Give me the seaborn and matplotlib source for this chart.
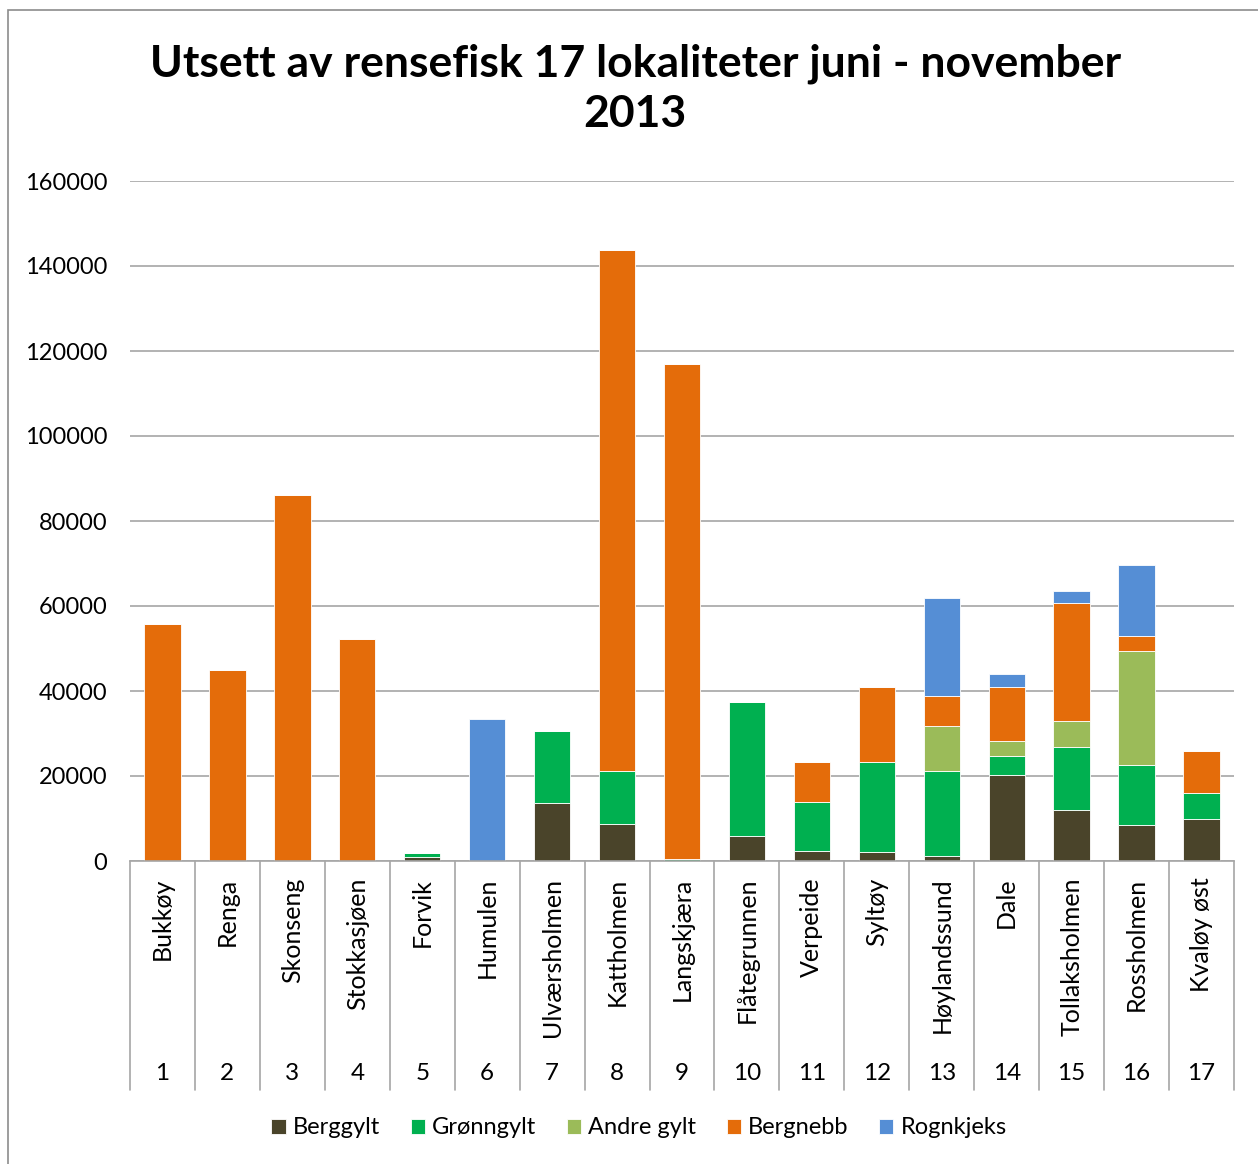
import numpy as np
import pandas as pd
import matplotlib
matplotlib.use('Agg')
import matplotlib.pyplot as plt
import matplotlib.transforms as mtransforms
from matplotlib.patches import Rectangle
import seaborn as sns

# Data
lokaliteter = ['Bukkøy', 'Renga', 'Skonseng', 'Stokkasjøen', 'Forvik', 'Humulen',
               'Ulværsholmen', 'Kattholmen', 'Langskjæra', 'Flåtegrunnen', 'Verpeide',
               'Syltøy', 'Høylandssund', 'Dale', 'Tollaksholmen', 'Rossholmen', 'Kvaløy øst']
nummer = [str(i) for i in range(1, 18)]

berggylt = [0, 0, 0, 0, 1000, 0, 13600, 8700, 0, 6000, 2400, 2100, 1200, 20200, 12100, 8500, 10000]
gronngylt = [0, 0, 0, 0, 900, 0, 16900, 12400, 500, 31300, 11500, 21100, 20000, 4500, 14700, 14100, 6000]
andre_gylt = [0, 0, 0, 0, 0, 0, 0, 0, 0, 0, 0, 0, 10500, 3600, 6100, 26800, 0]
bergnebb = [55800, 45000, 86100, 52200, 0, 0, 0, 122700, 116400, 0, 9300, 17800, 7200, 12700, 27700, 3600, 9900]
rognkjeks = [0, 0, 0, 0, 0, 33500, 0, 0, 0, 0, 0, 0, 22900, 3000, 3000, 16600, 0]

serier = ['Berggylt', 'Grønngylt', 'Andre gylt', 'Bergnebb', 'Rognkjeks']
verdier = [berggylt, gronngylt, andre_gylt, bergnebb, rognkjeks]
farger = ['#4A442A', '#00B050', '#9BBB59', '#E46C0A', '#558ED5']

sns.set_style('white')
plt.rcParams['font.family'] = ['Lato', 'DejaVu Sans']
plt.rcParams['text.color'] = 'black'
plt.rcParams['xtick.color'] = 'black'
plt.rcParams['ytick.color'] = 'black'

fig = plt.figure(figsize=(12.58, 11.64), dpi=100)
ax = fig.add_axes([130 / 1258, 1 - 861 / 1164, 1104 / 1258, 680 / 1164])

# stacked bars, one seaborn call per series
bunn = np.zeros(len(lokaliteter))
for navn, v, c in zip(serier, verdier, farger):
    df = pd.DataFrame({'lok': lokaliteter, 'antall': v})
    sns.barplot(data=df, x='lok', y='antall', order=lokaliteter, bottom=bunn,
                color=c, width=0.56, errorbar=None, ax=ax, label=navn,
                edgecolor='white', linewidth=0.6, saturation=1)
    bunn = bunn + np.array(v)

ax.set_ylim(0, 160000)
ax.set_xlim(-0.5, len(lokaliteter) - 0.5)
ax.set_yticks(range(0, 160001, 20000))
ax.set_yticklabels([str(t) for t in range(0, 160001, 20000)], fontsize=17)
ax.tick_params(axis='y', length=0, pad=16.5)
ax.yaxis.grid(True, color='#A6A6A6', linewidth=1.2)
ax.set_axisbelow(True)
for s in ['top', 'right', 'left']:
    ax.spines[s].set_visible(False)
ax.spines['bottom'].set_color('#A6A6A6')
ax.spines['bottom'].set_linewidth(1.2)
ax.set_xlabel('')
ax.set_ylabel('')

# category labels: names rotated, numbers below
ax.set_xticks(range(len(lokaliteter)))
ax.set_xticklabels(lokaliteter, rotation=90, fontsize=18, va='top', ha='center')
ax.tick_params(axis='x', length=0, pad=12)

trans = mtransforms.blended_transform_factory(ax.transData, ax.transAxes)
for i, n in enumerate(nummer):
    ax.text(i, -0.312, n, transform=trans, ha='center', va='center', fontsize=17.5)
for i in range(len(lokaliteter) + 1):
    ax.plot([i - 0.5, i - 0.5], [0, -0.337], transform=trans, color='#A6A6A6',
            linewidth=1.2, clip_on=False)

handles, labels = ax.get_legend_handles_labels()
ax.legend_.remove()

fig.text(0.505, 1 - 89 / 1164, 'Utsett av rensefisk 17 lokaliteter juni - november\n2013',
         fontsize=32, fontweight='bold', ha='center', va='center', linespacing=1.3)

fig.legend(handles, labels, loc='center', bbox_to_anchor=(0.508, 1 - 1128 / 1164),
           ncol=5, frameon=False, fontsize=17, handlelength=0.6, handleheight=0.6,
           handletextpad=0.3, columnspacing=1.3)

fig.patches.append(Rectangle((8 / 1258, -0.01), 1.1, 1 - 10 / 1164 + 0.01,
                             transform=fig.transFigure, fill=False,
                             edgecolor='#8C8C8C', linewidth=1.2))

fig.savefig('out.png', dpi=100)
